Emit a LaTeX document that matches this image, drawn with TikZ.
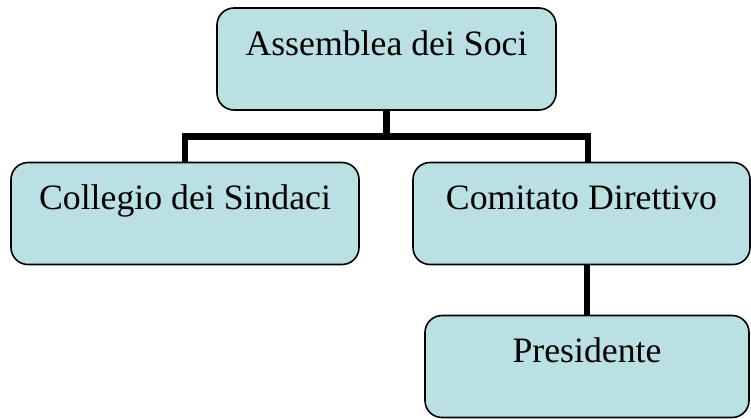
\documentclass[tikz,border=0pt]{standalone}
\usepackage{fontspec}
\setmainfont{Liberation Serif}
\definecolor{boxfill}{HTML}{BBE0E3}
\tikzset{
  orgbox/.style={draw=black, line width=1.6pt, fill=boxfill, rounded corners=17pt,
    inner xsep=0pt, inner ysep=0pt, text height=47pt, text depth=55pt,
    font=\fontsize{35.75pt}{40pt}\selectfont, align=center},
  conn/.style={line width=6.5pt, draw=black, line join=miter}
}
\begin{document}
\begin{tikzpicture}[x=1pt,y=-1pt]
\useasboundingbox (0,0) rectangle (751,418);
\node[orgbox, minimum width=339pt] (A) at (386.5,59) {Assemblea dei Soci};
\node[orgbox, minimum width=348pt] (C) at (185,213.5) {Collegio dei Sindaci};
\node[orgbox, minimum width=337pt] (D) at (581.5,213.5) {Comitato Direttivo};
\node[orgbox, minimum width=324pt] (P) at (587,366.5) {Presidente};
\coordinate (busL) at (185,136.5);
\coordinate (busR) at (588,136.5);
\begin{scope}[on background layer/.try]
\end{scope}
\draw[conn] (C.north -| busL) -- (busL) -- (busR) -- (D.north -| busR);
\draw[conn] (A.south) -- (A.south |- busL);
\draw[conn] (D.south -| P.north) -- (P.north);
\end{tikzpicture}
\end{document}
